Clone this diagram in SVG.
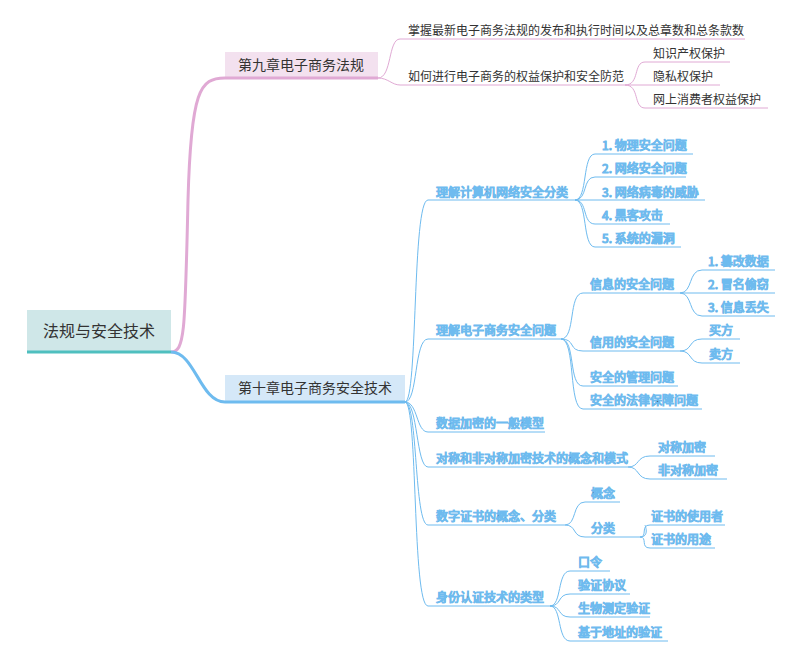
<svg xmlns="http://www.w3.org/2000/svg" width="800" height="661" viewBox="0 0 800 661">
<style>
text{font-family:"Noto Sans CJK SC","Liberation Sans",sans-serif;fill:#333;font-size:12px}
.t{font-size:14px}
.p{stroke:#e0a9d4;fill:none;stroke-width:1}
.b{stroke:#6ebbef;fill:none;stroke-width:1}
</style>
<rect width="800" height="661" fill="#fff"/>
<g id="connectors">
<path d="M171,352 C185,352 185,330 188,200 C191,90 200,78 225,78" stroke="#e0a9d4" fill="none" stroke-width="3"/>
<path d="M171,352 C195,352 200,402 225,402" stroke="#6ebbef" fill="none" stroke-width="3"/>
<path class="p" d="M378,78 C392,78 388,39 400,39"/>
<path class="p" d="M378,78 C388,78 392,85 400,85"/>
<path class="p" d="M625,85 C640,85 633,62 645,62"/>
<path class="p" d="M625,85 L645,85"/>
<path class="p" d="M625,85 C640,85 633,108 645,108"/>
<g class="b">
<path d="M405,402 C418,402 412,200 428,200"/>
<path d="M405,402 C418,402 414,339 428,339"/>
<path d="M405,402 C418,402 416,432 428,432"/>
<path d="M405,402 C418,402 416,467 428,467"/>
<path d="M405,402 C418,402 414,525 428,525"/>
<path d="M405,402 C418,402 412,606 428,606"/>
<path d="M575,200 C588,200 582,154 595,154"/>
<path d="M575,200 C588,200 582,177 595,177"/>
<path d="M575,200 L595,200"/>
<path d="M575,200 C588,200 582,224 595,224"/>
<path d="M575,200 C588,200 582,247 595,247"/>
<path d="M561,339 C576,339 568,293 583,293"/>
<path d="M561,339 C576,339 568,351 583,351"/>
<path d="M561,339 C576,339 568,386 583,386"/>
<path d="M561,339 C576,339 568,409 583,409"/>
<path d="M680,293 C693,293 688,270 702,270"/>
<path d="M680,293 L702,293"/>
<path d="M680,293 C693,293 688,316 702,316"/>
<path d="M680,351 C693,351 688,339 702,339"/>
<path d="M680,351 C693,351 688,363 702,363"/>
<path d="M628,467 C640,467 636,456 650,456"/>
<path d="M628,467 C640,467 636,479 650,479"/>
<path d="M565,525 C577,525 572,502 585,502"/>
<path d="M565,525 C577,525 572,537 585,537"/>
<path d="M640,537 C650,537 645,525 645,525 L645,525"/>
<path d="M640,537 C648,537 640,525 650,525"/>
<path d="M640,537 C648,537 640,548 650,548"/>
<path d="M550,606 C562,606 557,571 570,571"/>
<path d="M550,606 C562,606 557,594 570,594"/>
<path d="M550,606 C562,606 557,617 570,617"/>
<path d="M550,606 C562,606 557,641 570,641"/>
</g>
</g>
<g id="root"><rect x="27" y="310" width="144" height="43" fill="#cfe7e8"/><line x1="27" y1="352" x2="171" y2="352" stroke="#4fbfbf" stroke-width="3"/><text x="99" y="337" text-anchor="middle" style="font-size:16px">法规与安全技术</text></g>
<g id="ch9"><rect x="225" y="52" width="153" height="27" fill="#f3e1ef"/><line x1="225" y1="78" x2="378" y2="78" stroke="#e0a9d4" stroke-width="3"/><text class="t" x="301" y="70" text-anchor="middle">第九章电子商务法规</text></g>
<g id="ch10"><rect x="225" y="375" width="180" height="27" fill="#d5e8f8"/><line x1="225" y1="402" x2="405" y2="402" stroke="#6ebbef" stroke-width="3"/><text class="t" x="315" y="393" text-anchor="middle">第十章电子商务安全技术</text></g>
<g id="n9a"><line class="p" x1="400" y1="39" x2="745" y2="39"/><text x="408" y="35">掌握最新电子商务法规的发布和执行时间以及总章数和总条款数</text></g>
<g id="n9b"><line class="p" x1="400" y1="85" x2="625" y2="85"/><text x="408" y="81">如何进行电子商务的权益保护和安全防范</text></g>
<g id="n9b1"><line class="p" x1="645" y1="62" x2="730" y2="62"/><text x="653" y="58">知识产权保护</text></g>
<g id="n9b2"><line class="p" x1="645" y1="85" x2="720" y2="85"/><text x="653" y="81">隐私权保护</text></g>
<g id="n9b3"><line class="p" x1="645" y1="108" x2="768" y2="108"/><text x="653" y="104">网上消费者权益保护</text></g>
<g class="b">
<g id="a"><line x1="428" y1="200" x2="575" y2="200"/><text x="436" y="197">理解计算机网络安全分类</text></g>
<g id="a1"><line x1="595" y1="154" x2="693" y2="154"/><text x="602" y="150">1. 物理安全问题</text></g>
<g id="a2"><line x1="595" y1="177" x2="686" y2="177"/><text x="602" y="173">2. 网络安全问题</text></g>
<g id="a3"><line x1="595" y1="200" x2="705" y2="200"/><text x="602" y="197">3. 网络病毒的威胁</text></g>
<g id="a4"><line x1="595" y1="224" x2="670" y2="224"/><text x="602" y="220">4. 黑客攻击</text></g>
<g id="a5"><line x1="595" y1="247" x2="681" y2="247"/><text x="602" y="243">5. 系统的漏洞</text></g>
<g id="b"><line x1="428" y1="339" x2="561" y2="339"/><text x="436" y="335">理解电子商务安全问题</text></g>
<g id="b1"><line x1="583" y1="293" x2="680" y2="293"/><text x="590" y="289">信息的安全问题</text></g>
<g id="b11"><line x1="702" y1="270" x2="775" y2="270"/><text x="708" y="266">1. 篡改数据</text></g>
<g id="b12"><line x1="702" y1="293" x2="775" y2="293"/><text x="708" y="289">2. 冒名偷窃</text></g>
<g id="b13"><line x1="702" y1="316" x2="775" y2="316"/><text x="708" y="312">3. 信息丢失</text></g>
<g id="b2"><line x1="583" y1="351" x2="680" y2="351"/><text x="590" y="347">信用的安全问题</text></g>
<g id="b21"><line x1="702" y1="339" x2="740" y2="339"/><text x="709" y="335">买方</text></g>
<g id="b22"><line x1="702" y1="363" x2="740" y2="363"/><text x="709" y="359">卖方</text></g>
<g id="b3"><line x1="583" y1="386" x2="678" y2="386"/><text x="590" y="382">安全的管理问题</text></g>
<g id="b4"><line x1="583" y1="409" x2="702" y2="409"/><text x="590" y="405">安全的法律保障问题</text></g>
<g id="c"><line x1="428" y1="432" x2="545" y2="432"/><text x="436" y="428">数据加密的一般模型</text></g>
<g id="d"><line x1="428" y1="467" x2="628" y2="467"/><text x="436" y="463">对称和非对称加密技术的概念和模式</text></g>
<g id="d1"><line x1="650" y1="456" x2="715" y2="456"/><text x="658" y="452">对称加密</text></g>
<g id="d2"><line x1="650" y1="479" x2="727" y2="479"/><text x="658" y="475">非对称加密</text></g>
<g id="e"><line x1="428" y1="525" x2="565" y2="525"/><text x="436" y="521">数字证书的概念、分类</text></g>
<g id="e1"><line x1="585" y1="502" x2="620" y2="502"/><text x="591" y="498">概念</text></g>
<g id="e2"><line x1="585" y1="537" x2="640" y2="537"/><text x="591" y="533">分类</text></g>
<g id="e21"><line x1="650" y1="525" x2="725" y2="525"/><text x="651" y="521">证书的使用者</text></g>
<g id="e22"><line x1="650" y1="548" x2="715" y2="548"/><text x="651" y="544">证书的用途</text></g>
<g id="f"><line x1="428" y1="606" x2="550" y2="606"/><text x="436" y="602">身份认证技术的类型</text></g>
<g id="f1"><line x1="570" y1="571" x2="610" y2="571"/><text x="578" y="567">口令</text></g>
<g id="f2"><line x1="570" y1="594" x2="630" y2="594"/><text x="578" y="590">验证协议</text></g>
<g id="f3"><line x1="570" y1="617" x2="650" y2="617"/><text x="578" y="613">生物测定验证</text></g>
<g id="f4"><line x1="570" y1="641" x2="668" y2="641"/><text x="578" y="637">基于地址的验证</text></g>
</g>
</svg>
